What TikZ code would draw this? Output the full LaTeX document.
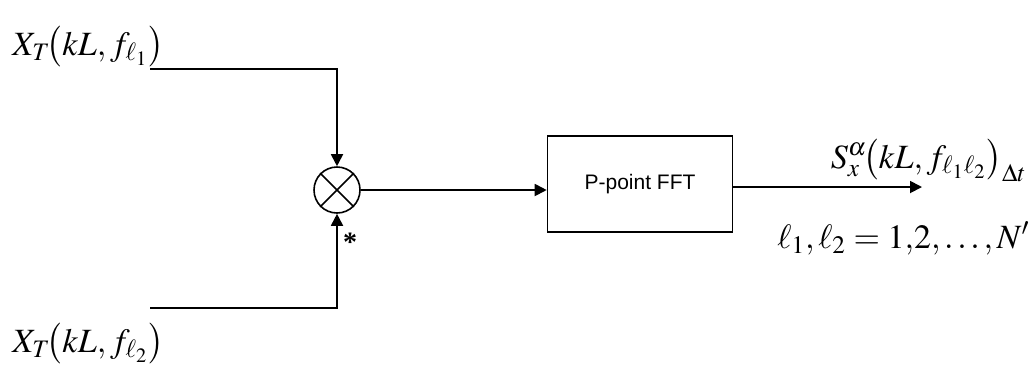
\documentclass[tikz,border=0pt]{standalone}
\usepackage{amsmath}
\usepackage{mathptmx}
\usepackage{fontspec}
\setsansfont{Liberation Sans}
\setmainfont{Liberation Serif}
\usetikzlibrary{arrows.meta}

\begin{document}
\begin{tikzpicture}[x=0.5pt,y=-0.5pt,
  b/.style={draw,line width=0.8pt,minimum width=92.5pt,minimum height=48pt,
            inner sep=0pt,font=\fontsize{10.5}{12}\sffamily},
  m/.style={draw,circle,line width=0.8pt,minimum size=23pt,inner sep=0pt},
  t/.style={inner sep=0pt,font=\fontsize{17}{20}\selectfont},
  a/.style={-{Triangle[length=6pt,width=6pt]},line width=0.9pt}
]
\useasboundingbox (0,0) rectangle (1036,366);
\node[t,anchor=base west] (x1) at (12,55) {$X_T\!\bigl(kL,f_{\ell_1}\bigr)$};
\node[t,anchor=base west] (x2) at (12,352) {$X_T\!\bigl(kL,f_{\ell_2}\bigr)$};
\node[m] (mix) at (337,190) {};
\draw[line width=0.8pt] (mix.north west)--(mix.south east) (mix.north east)--(mix.south west);
\node[b] (fft) at (640,184) {P-point FFT};
\coordinate (i1) at (150,69);
\coordinate (i2) at (150,308);
\coordinate (o) at (922,187);
\draw[a] (i1) -| (mix.north);
\draw[a] (i2) -| (mix.south);
\node[inner sep=0pt,font=\fontsize{14}{14}\bfseries] (cj) at (350,242) {*};
\draw[a] (mix.east) -- (mix.east -| fft.west);
\draw[a] (fft.east |- o) -- (o);
\node[t,anchor=base east] (sx) at (1027,168) {$S_x^\alpha\!\bigl(kL,f_{\ell_1\ell_2}\bigr)_{\Delta t}$};
\node[t,anchor=base east] (rng) at (1030,248) {$\ell_1,\ell_2 = 1{,}2{,}\ldots{,}\,N'$};
\end{tikzpicture}
\end{document}
